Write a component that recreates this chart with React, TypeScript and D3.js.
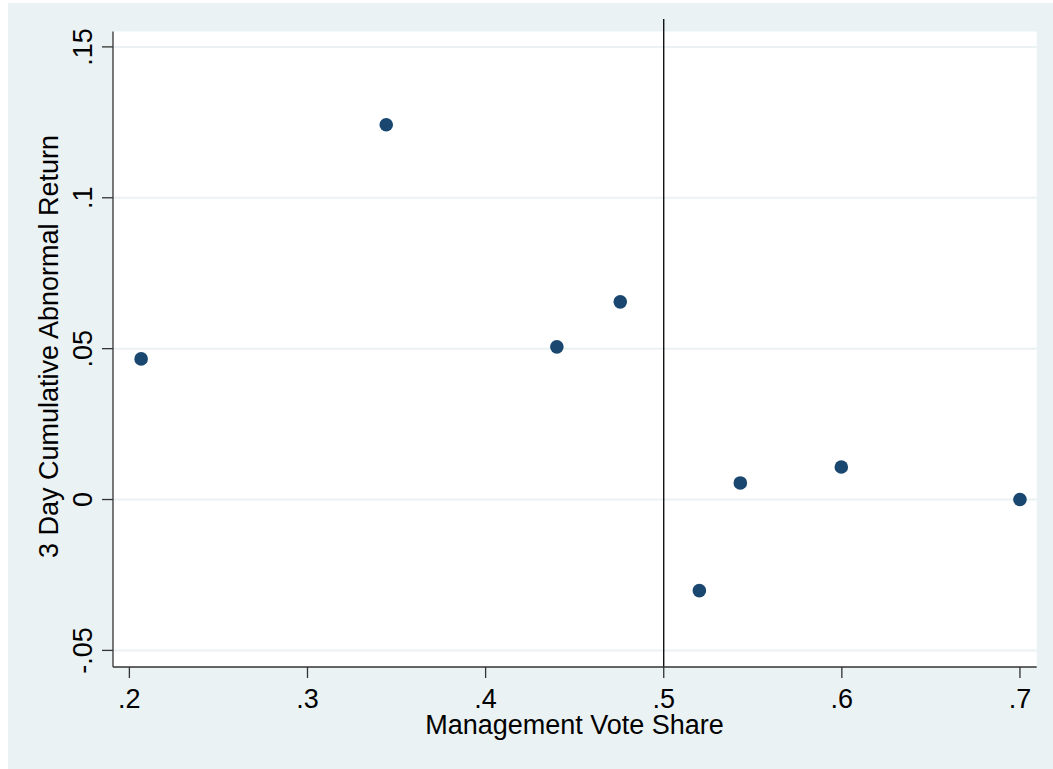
import React from "react";
import * as d3 from "d3";

const voteShare = [0.2066, 0.3442, 0.44, 0.4756, 0.52, 0.543, 0.5997, 0.7];
const car = [0.0466, 0.1242, 0.0506, 0.0655, -0.0302, 0.0055, 0.0108, 0.0];
const xTicks = [0.2, 0.3, 0.4, 0.5, 0.6, 0.7];
const yTicks = [-0.05, 0, 0.05, 0.1, 0.15];
const xTickLabels = [".2", ".3", ".4", ".5", ".6", ".7"];
const yTickLabels = ["-.05", "0", ".05", ".1", ".15"];
const xLineValue = 0.5;

const W = 1053;
const H = 769;
const plot = { left: 113, right: 1036.7, top: 31.5, bottom: 667 };
const font = "Liberation Sans, Arial, sans-serif";
const fs = 27;

export default function App() {
  const x = d3.scaleLinear().domain([0.1908, 0.7094]).range([plot.left, plot.right]);
  const y = d3.scaleLinear().domain([-0.0555, 0.1551]).range([plot.bottom, plot.top]);
  return (
    <svg width={W} height={H} style={{ position: "absolute", left: 0, top: 0 }}>
      <rect x={0} y={0} width={W} height={H} fill="#ffffff" />
      <rect x={8} y={3} width={W - 8} height={H - 3} fill="#EAF2F3" />
      <rect x={plot.left} y={plot.top} width={plot.right - plot.left} height={plot.bottom - plot.top} fill="#ffffff" />
      {yTicks.map((t, i) => (
        <line key={"g" + i} x1={plot.left} x2={plot.right} y1={y(t)} y2={y(t)} stroke="#EAF2F3" strokeWidth={2} />
      ))}
      <line x1={x(xLineValue)} x2={x(xLineValue)} y1={19} y2={plot.bottom} stroke="#000" strokeWidth={1.3} />
      {voteShare.map((v, i) => (
        <circle key={"p" + i} cx={x(v)} cy={y(car[i])} r={6.8} fill="#1A476F" />
      ))}
      <line x1={plot.left} x2={plot.left} y1={plot.top} y2={plot.bottom} stroke="#333" strokeWidth={1.3} />
      <line x1={plot.left} x2={plot.right} y1={plot.bottom} y2={plot.bottom} stroke="#333" strokeWidth={1.3} />
      {yTicks.map((t, i) => (
        <g key={"yt" + i}>
          <line x1={plot.left - 11} x2={plot.left} y1={y(t)} y2={y(t)} stroke="#333" strokeWidth={1.3} />
          <text
            transform={`translate(${92},${y(t)}) rotate(-90)`}
            textAnchor="middle"
            fontFamily={font}
            fontSize={fs}
            fill="#000"
          >
            {yTickLabels[i]}
          </text>
        </g>
      ))}
      {xTicks.map((t, i) => (
        <g key={"xt" + i}>
          <line x1={x(t)} x2={x(t)} y1={plot.bottom} y2={plot.bottom + 11} stroke="#333" strokeWidth={1.3} />
          <text x={x(t)} y={708} textAnchor="middle" fontFamily={font} fontSize={fs} fill="#000">
            {xTickLabels[i]}
          </text>
        </g>
      ))}
      <text x={574.5} y={734} textAnchor="middle" fontFamily={font} fontSize={fs} fill="#000">
        Management Vote Share
      </text>
      <text
        transform={`translate(${58},${346.5}) rotate(-90)`}
        textAnchor="middle"
        fontFamily={font}
        fontSize={fs}
        fill="#000"
      >
        3 Day Cumulative Abnormal Return
      </text>
    </svg>
  );
}
